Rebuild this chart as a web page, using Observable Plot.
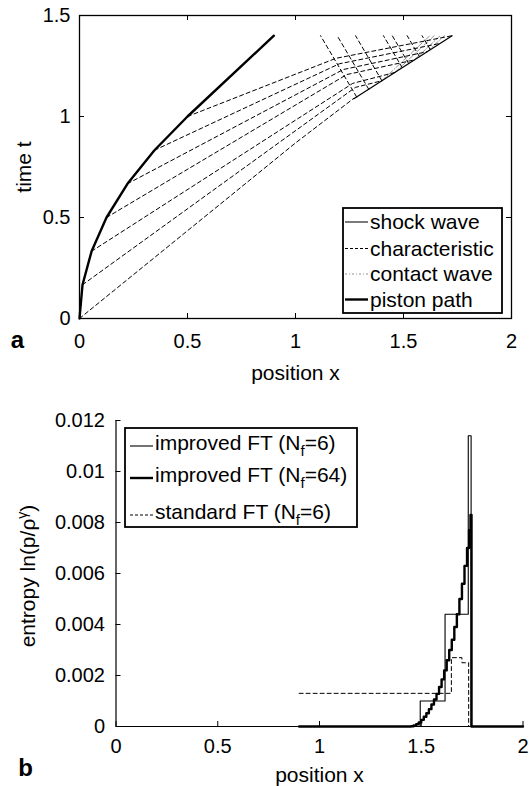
<!DOCTYPE html>
<html><head><meta charset="utf-8">
<script src="https://cdn.jsdelivr.net/npm/d3@7"></script>
<script src="https://cdn.jsdelivr.net/npm/@observablehq/plot@0.6"></script>
<style>
body{margin:0;background:#fff;}
#wrap{position:relative;width:529px;height:786px;overflow:hidden;}
#wrap svg{position:absolute;left:0;}
</style></head><body><div id="wrap"></div>
<script>
const FONT = "'Liberation Sans', Arial, Helvetica, sans-serif";
const fmt = d => String(d);

// ---------- Panel (a) data ----------
const xTicksA = [0, 0.5, 1, 1.5, 2];
const tTicksA = [0, 0.5, 1, 1.5];
const pistonX = [0, 0.014, 0.056, 0.125, 0.222, 0.347, 0.5, 0.9];
const pistonT = [0, 0.167, 0.333, 0.5, 0.667, 0.833, 1.0, 1.4];
const charBendX = [1.0, 1.277, 1.265, 1.237, 1.2215, 1.203, 1.187];
const charBendT = [0.869, 1.144, 1.164, 1.2075, 1.2326, 1.261, 1.288];
const charEndX = [1.27, 1.40, 1.46, 1.55, 1.61, 1.67, 1.725];
const charEndT = [1.090, 1.177, 1.218, 1.280, 1.321, 1.362, 1.4];
const shockX = [1.27, 1.725];
const shockT = [1.088, 1.4];
const reflStartX = [1.283, 1.339, 1.400, 1.494, 1.524, 1.574, 1.624];
const reflStartT = [1.097, 1.135, 1.177, 1.242, 1.262, 1.296, 1.331];
const reflTopX = [1.116, 1.193, 1.278, 1.407, 1.448, 1.517, 1.586];
const contactStartX = [1.40, 1.46, 1.55, 1.61];
const contactStartT = [1.177, 1.218, 1.280, 1.321];
const contactTopX = [1.622, 1.642, 1.670, 1.689];
const tTop = 1.4;

// ---------- Panel (b) data ----------
const xTicksB = [0, 0.5, 1, 1.5, 2];
const eTicksB = [0, 0.002, 0.004, 0.006, 0.008, 0.01, 0.012];
const xStd = [0.9, 1.648, 1.70, 1.733, 2.0];
const eStd = [0.0013, 0.0027, 0.0025, 0, 0];
const x6 = [0.9, 1.495, 1.617, 1.731, 1.745, 2.0];
const e6 = [0, 0.001, 0.0044, 0.0114, 0, 0];
const x64 = [0.9, 1.45, 1.4625, 1.475, 1.4875, 1.5, 1.5125, 1.525, 1.5375, 1.55, 1.5625, 1.575, 1.5875, 1.6, 1.6125, 1.625, 1.6375, 1.65, 1.6625, 1.675, 1.6875, 1.7, 1.7125, 1.725, 1.735, 1.742, 1.747, 2.0];
const e64 = [0, 0.00001, 0.00004, 0.00009, 0.00016, 0.00026, 0.00038, 0.00052, 0.00068, 0.00086, 0.00106, 0.00128, 0.00155, 0.00185, 0.0022, 0.0026, 0.0030, 0.0034, 0.0039, 0.0044, 0.0050, 0.0056, 0.0063, 0.0070, 0.0077, 0.0083, 0, 0];

// ---------- tables ----------
const pistonRows = pistonX.map((x, i) => ({x, t: pistonT[i]}));
const shockRows = shockX.map((x, i) => ({x, t: shockT[i]}));
const charRows = [];
for (let k = 0; k < charBendX.length; k++) {
  charRows.push({id: k, x: pistonX[k], t: pistonT[k]});
  charRows.push({id: k, x: charBendX[k], t: charBendT[k]});
  charRows.push({id: k, x: charEndX[k], t: charEndT[k]});
}
const reflRows = [];
reflTopX.forEach((xt, i) => {
  reflRows.push({id: i, x: reflStartX[i], t: reflStartT[i]});
  reflRows.push({id: i, x: xt, t: tTop});
});
const contactRows = [];
contactTopX.forEach((xt, i) => {
  contactRows.push({id: i, x: contactStartX[i], t: contactStartT[i]});
  contactRows.push({id: i, x: xt, t: tTop});
});
const stdRows = xStd.map((x, i) => ({x, e: eStd[i]}));
const f6Rows = x6.map((x, i) => ({x, e: e6[i]}));
const f64Rows = x64.map((x, i) => ({x, e: e64[i]}));

const style = {fontFamily: FONT, fontSize: "20px", color: "#000", background: "transparent", overflow: "visible"};

const plotA = Plot.plot({
  width: 529, height: 390,
  marginLeft: 79, marginRight: 18, marginTop: 15, marginBottom: 72,
  x: {domain: [0, 2]},
  y: {domain: [0, 1.5]},
  style,
  marks: [
    Plot.line(contactRows, {x: "x", y: "t", z: "id", stroke: "#777", strokeWidth: 0.8, strokeDasharray: "5,2,1,2"}),
    Plot.line(reflRows, {x: "x", y: "t", z: "id", stroke: "#000", strokeWidth: 1, strokeDasharray: "4,3"}),
    Plot.line(charRows, {x: "x", y: "t", z: "id", stroke: "#000", strokeWidth: 1, strokeDasharray: "4,3"}),
    Plot.line(shockRows, {x: "x", y: "t", stroke: "#000", strokeWidth: 1.2}),
    Plot.line(pistonRows, {x: "x", y: "t", stroke: "#000", strokeWidth: 2.4}),
    Plot.frame({stroke: "#000", strokeWidth: 1.3}),
    Plot.ruleX(xTicksA, {insetTop: 298, stroke: "#000"}),
    Plot.ruleX(xTicksA, {insetBottom: 298, stroke: "#000"}),
    Plot.ruleY(tTicksA, {insetRight: 427, stroke: "#000"}),
    Plot.ruleY(tTicksA, {insetLeft: 427, stroke: "#000"}),
    Plot.axisX({ticks: xTicksA, tickFormat: fmt, tickSize: 0, tickPadding: 15, label: null}),
    Plot.axisY({ticks: tTicksA, tickFormat: fmt, tickSize: 0, tickPadding: 9, label: null}),
    Plot.text(["position x"], {frameAnchor: "bottom", dy: 55, fontSize: 21, textAnchor: "middle", lineAnchor: "middle"}),
    Plot.text(["time t"], {frameAnchor: "left", dx: -55, rotate: -90, fontSize: 21, textAnchor: "middle", lineAnchor: "middle"}),
    Plot.text(["a"], {frameAnchor: "bottom-left", dx: -62, dy: 22, fontSize: 24, fontWeight: "bold", textAnchor: "middle", lineAnchor: "middle"})
  ]
});
plotA.style.top = "0px";

const plotB = Plot.plot({
  width: 529, height: 396,
  marginLeft: 115.5, marginRight: 6.5, marginTop: 30, marginBottom: 60,
  x: {domain: [0, 2]},
  y: {domain: [0, 0.012]},
  style,
  marks: [
    Plot.line(stdRows, {x: "x", y: "e", curve: "step-after", stroke: "#000", strokeWidth: 1, strokeDasharray: "4,3"}),
    Plot.line(f6Rows, {x: "x", y: "e", curve: "step-after", stroke: "#000", strokeWidth: 1.1}),
    Plot.line(f64Rows, {x: "x", y: "e", curve: "step-after", stroke: "#000", strokeWidth: 2.4}),
    Plot.ruleX([0], {stroke: "#000", strokeWidth: 1.2}),
    Plot.ruleY([0], {stroke: "#000", strokeWidth: 1.2}),
    Plot.ruleX(xTicksB, {insetTop: 301, stroke: "#000"}),
    Plot.ruleY(eTicksB, {insetRight: 402, stroke: "#000"}),
    Plot.axisX({ticks: xTicksB, tickFormat: fmt, tickSize: 0, tickPadding: 12, label: null}),
    Plot.axisY({ticks: eTicksB, tickFormat: fmt, tickSize: 0, tickPadding: 11, label: null}),
    Plot.text(["position x"], {frameAnchor: "bottom", dy: 49, fontSize: 21, textAnchor: "middle", lineAnchor: "middle"}),
    Plot.text(["b"], {frameAnchor: "bottom-left", dx: -90.5, dy: 42, fontSize: 24, fontWeight: "bold", textAnchor: "middle", lineAnchor: "middle"})
  ]
});
plotB.style.top = "390px";

const wrap = document.getElementById("wrap");
wrap.appendChild(plotA);
wrap.appendChild(plotB);

// ---------- overlay: legends and entropy label ----------
const ov = d3.select(wrap).append("svg")
  .attr("width", 529).attr("height", 786)
  .style("top", "0px").style("pointer-events", "none")
  .style("font-family", FONT);

// legend a
const legA = [
  {label: "shock wave", w: 1.2, dash: null, c: "#222"},
  {label: "characteristic", w: 1, dash: "3,2", c: "#000"},
  {label: "contact wave", w: 0.8, dash: "2,2,1,2", c: "#777"},
  {label: "piston path", w: 2.4, dash: null, c: "#000"}
];
const rowA = [222, 248.5, 274, 299.5];
ov.append("rect").attr("x", 343).attr("y", 208).attr("width", 159).attr("height", 105)
  .attr("fill", "#fff").attr("stroke", "#000").attr("stroke-width", 1.8);
legA.forEach((d, i) => {
  ov.append("line").attr("x1", 345).attr("x2", 368).attr("y1", rowA[i]).attr("y2", rowA[i])
    .attr("stroke", d.c).attr("stroke-width", d.w).attr("stroke-dasharray", d.dash);
  ov.append("text").attr("x", 370).attr("y", rowA[i]).attr("dy", "0.35em")
    .attr("font-size", 21).text(d.label);
});

// legend b
const legB = [
  {pre: "improved FT (N", sub: "f", post: "=6)", w: 1.1, dash: null},
  {pre: "improved FT (N", sub: "f", post: "=64)", w: 2.4, dash: null},
  {pre: "standard FT (N", sub: "f", post: "=6)", w: 1, dash: "3,2"}
];
const lineB = [446, 478, 515];
const baseB = [450, 482, 519];
ov.append("rect").attr("x", 125).attr("y", 428).attr("width", 232).attr("height", 99)
  .attr("fill", "#fff").attr("stroke", "#000").attr("stroke-width", 1.8);
legB.forEach((d, i) => {
  ov.append("line").attr("x1", 130).attr("x2", 153).attr("y1", lineB[i]).attr("y2", lineB[i])
    .attr("stroke", "#000").attr("stroke-width", d.w).attr("stroke-dasharray", d.dash);
  const t = ov.append("text").attr("x", 155).attr("y", baseB[i]).attr("font-size", 21);
  t.append("tspan").text(d.pre);
  t.append("tspan").attr("dy", 6).attr("font-size", 15).text(d.sub);
  t.append("tspan").attr("dy", -6).text(d.post);
});

// entropy y-label with superscript
const yl = ov.append("text").attr("transform", "translate(35,576) rotate(-90)")
  .attr("text-anchor", "middle").attr("font-size", 21);
yl.append("tspan").text("entropy ln(p/\u03C1");
yl.append("tspan").attr("dy", -8).attr("font-size", 14).text("\u03B3");
yl.append("tspan").attr("dy", 8).text(")");
</script></body></html>
